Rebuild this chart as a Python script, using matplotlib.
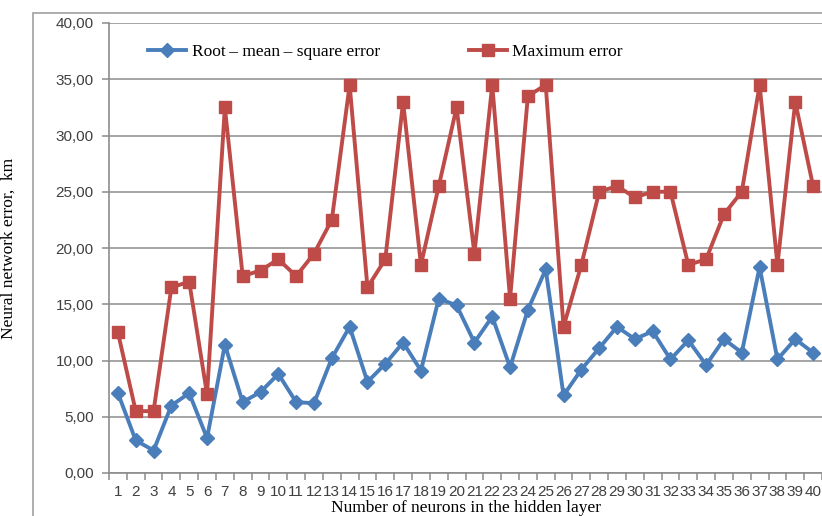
import numpy as np
import matplotlib.pyplot as plt
from matplotlib.patches import Rectangle
from matplotlib.ticker import FuncFormatter, MultipleLocator

# number of neurons in the hidden layer
neurons = np.arange(1, 41)

# root-mean-square error, km
rmse = [7.1, 2.9, 2.0, 6.0, 7.1, 3.1, 11.4, 6.3, 7.2, 8.8,
        6.3, 6.2, 10.2, 13.0, 8.1, 9.7, 11.6, 9.1, 15.5, 14.9,
        11.6, 13.9, 9.4, 14.5, 18.1, 6.9, 9.2, 11.1, 13.0, 11.9,
        12.6, 10.1, 11.8, 9.6, 11.9, 10.7, 18.3, 10.1, 11.9, 10.7]

# maximum error, km
max_err = [12.5, 5.5, 5.5, 16.5, 17.0, 7.0, 32.5, 17.5, 18.0, 19.0,
           17.5, 19.5, 22.5, 34.5, 16.5, 19.0, 33.0, 18.5, 25.5, 32.5,
           19.5, 34.5, 15.5, 33.5, 34.5, 13.0, 18.5, 25.0, 25.5, 24.5,
           25.0, 25.0, 18.5, 19.0, 23.0, 25.0, 34.5, 18.5, 33.0, 25.5]

blue = "#4a7ebb"
red = "#be4b48"
grid_c = "#8c8c8c"
serif = "Liberation Serif"
sans = "Liberation Sans"

fig = plt.figure(figsize=(8.22, 5.16), dpi=100)
ax = fig.add_axes([109 / 822, 1 - 473 / 516, 1 - 109 / 822, (473 - 23) / 516])

# outer chart frame
fig.patches.append(Rectangle((33 / 822, -0.01), 1.0, 1 - 13 / 516 + 0.01,
                             transform=fig.transFigure, fill=False,
                             edgecolor="#a0a0a0", linewidth=1.2, zorder=0))

ax.plot(neurons, rmse, color=blue, lw=2.8, marker="D", ms=7,
        label="Root\u2009\u2013 mean\u2009\u2013 square error", zorder=3)
ax.plot(neurons, max_err, color=red, lw=2.8, marker="s", ms=8.5,
        label="Maximum error", zorder=3)

ax.set_xlim(0.5, 40.5)
ax.set_ylim(0, 40)
ax.yaxis.set_major_locator(MultipleLocator(5))
ax.yaxis.set_major_formatter(FuncFormatter(lambda v, p: f"{v:.2f}".replace(".", ",")))
ax.grid(axis="y", color=grid_c, lw=1.1)
ax.set_axisbelow(True)

ax.set_xticks(neurons)
ax.set_xticklabels([str(n) for n in neurons])
ax.set_xticks(np.arange(0.5, 41, 1), minor=True)
ax.tick_params(axis="x", which="major", length=0, pad=9, labelsize=11, labelcolor="#404040")
ax.tick_params(axis="x", which="minor", length=5, color=grid_c, width=1.1)
ax.tick_params(axis="y", length=5, color=grid_c, width=1.1, labelsize=11, labelcolor="#404040", pad=6)
for lab in ax.get_xticklabels() + ax.get_yticklabels():
    lab.set_family(sans)

for s in ["top", "right"]:
    ax.spines[s].set_visible(False)
for s in ["left", "bottom"]:
    ax.spines[s].set_color(grid_c)
    ax.spines[s].set_linewidth(1.2)

ax.set_ylabel("Neural network error,  km", family=serif, fontsize=12.5)
ax.yaxis.set_label_coords((17 - 109) / 713, 0.5)
ax.set_xlabel("Number of neurons in the hidden layer", family=serif, fontsize=12.5, labelpad=0)

leg = ax.legend(loc="upper left", bbox_to_anchor=(0.033, 0.988), ncol=2, frameon=False,
                prop={"family": serif, "size": 12.5}, handlelength=2.2,
                columnspacing=5.15, handletextpad=0.3)

fig.savefig("out.png", dpi=100)
